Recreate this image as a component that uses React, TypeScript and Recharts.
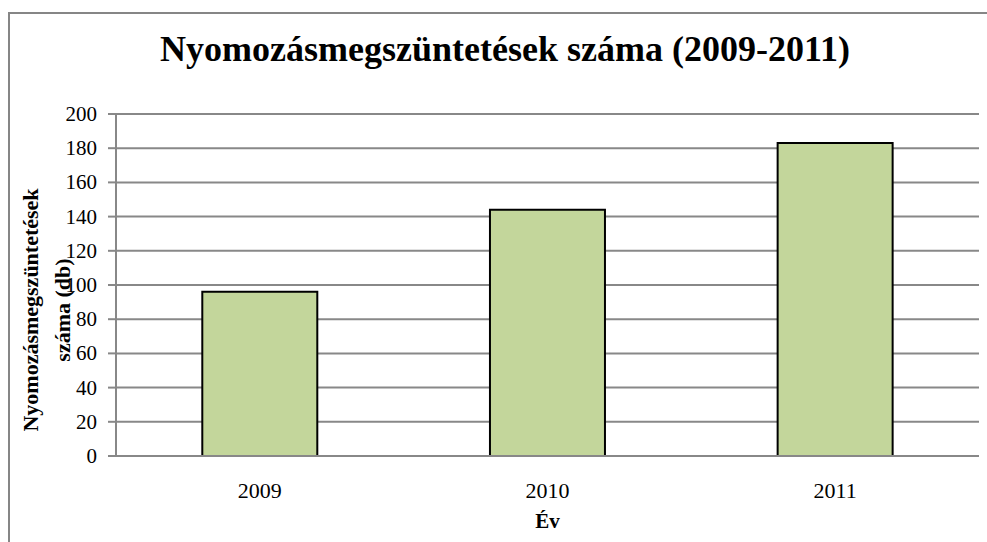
import React from 'react';
import { BarChart, Bar, XAxis, YAxis, CartesianGrid } from 'recharts';

const years = ['2009', '2010', '2011'];
const counts = [96, 144, 183];
const yTicks = [0, 20, 40, 60, 80, 100, 120, 140, 160, 180, 200];
const title = 'Nyomozásmegszüntetések száma (2009-2011)';
const yLabelLines = ['Nyomozásmegszüntetések', 'száma (db)'];
const xLabel = 'Év';

const data = years.map((y, i) => ({ year: y, value: counts[i] }));
const FONT = "'Liberation Serif', 'Times New Roman', serif";

const YLabel = (props: any) => {
  const vb = props.viewBox || { x: 0, y: 114, width: 116, height: 342 };
  const cy = vb.y + 196;
  const xs = [30, 62];
  return (
    <g>
      {yLabelLines.map((t, i) => (
        <text
          key={i}
          x={xs[i]}
          y={cy}
          textAnchor="middle"
          dominantBaseline="central"
          transform={`rotate(-90, ${xs[i]}, ${cy})`}
          style={{ fontFamily: FONT }}
          fontWeight="bold"
          fontSize={22}
          fill="#000"
        >
          {t}
        </text>
      ))}
    </g>
  );
};

const XLabel = (props: any) => {
  const vb = props.viewBox || { x: 116, y: 456, width: 863, height: 86 };
  return (
    <text
      x={vb.x + vb.width / 2}
      y={vb.y + 72}
      textAnchor="middle"
      style={{ fontFamily: FONT }}
      fontWeight="bold"
      fontSize={21}
      fill="#000"
    >
      {xLabel}
    </text>
  );
};

const XTick = (props: any) => {
  const { x, y, payload } = props;
  return (
    <text x={x} y={y + 42} textAnchor="middle" style={{ fontFamily: FONT }} fontSize={22} fill="#000">
      {payload.value}
    </text>
  );
};

const YTick = (props: any) => {
  const { x, y, payload } = props;
  return (
    <text x={x} y={y} textAnchor="end" dominantBaseline="central" style={{ fontFamily: FONT }} fontSize={21} fill="#000">
      {payload.value}
    </text>
  );
};

export default function App() {
  return (
    <div style={{ position: 'absolute', left: 0, top: 0, width: 987, height: 542, background: '#fff', overflow: 'hidden' }}>
      <div
        style={{
          position: 'absolute',
          left: 8,
          top: 12,
          width: 990,
          height: 540,
          borderLeft: '2px solid #868686',
          borderTop: '2px solid #868686',
        }}
      />
      <div
        style={{
          position: 'absolute',
          left: 0,
          top: 29,
          width: 1010,
          textAlign: 'center',
          fontFamily: FONT,
          fontWeight: 'bold',
          fontSize: 36,
          lineHeight: '40px',
          color: '#000',
        }}
      >
        {title}
      </div>
      <div style={{ position: 'absolute', left: 0, top: 0 }}>
        <BarChart
          width={987}
          height={542}
          data={data}
          margin={{ top: 114, right: 8, bottom: 0, left: 0 }}
          barCategoryGap="30%"
        >
          <CartesianGrid vertical={false} stroke="#888" strokeWidth={2} />
          <XAxis
            dataKey="year"
            height={86}
            tickLine={false}
            tickSize={0}
            tickMargin={0}
            axisLine={{ stroke: '#888', strokeWidth: 2 }}
            tick={<XTick />}
            label={<XLabel />}
          />
          <YAxis
            width={116}
            domain={[0, 200]}
            ticks={yTicks}
            interval={0}
            tickSize={8}
            tickMargin={11}
            tickLine={{ stroke: '#888', strokeWidth: 2 }}
            axisLine={{ stroke: '#888', strokeWidth: 2 }}
            tick={<YTick />}
            label={<YLabel />}
          />
          <Bar dataKey="value" fill="#c3d69b" stroke="#000" strokeWidth={2} isAnimationActive={false} />
        </BarChart>
      </div>
    </div>
  );
}
